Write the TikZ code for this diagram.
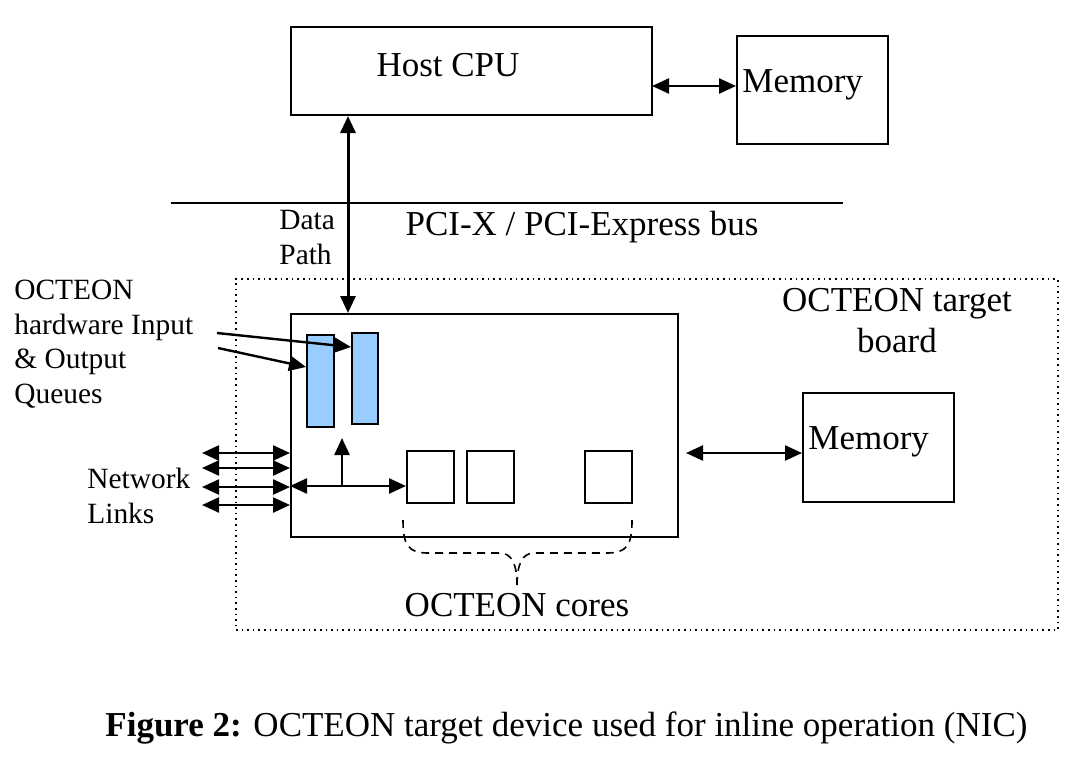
\documentclass[tikz,border=0pt]{standalone}
\usepackage{fontspec}
\setmainfont{Liberation Serif}
\usepackage{tikz}
\usetikzlibrary{arrows.meta}

\definecolor{queueblue}{RGB}{153,204,255}

\tikzset{
  box/.style={draw, line width=1pt, inner sep=0pt},
  dbl/.style={line width=1.2pt, {Triangle[length=8.5pt,width=7.5pt]}-{Triangle[length=8.5pt,width=7.5pt]}},
  arr/.style={line width=1.2pt, -{Triangle[length=8.5pt,width=7.5pt]}},
  big/.style={font=\fontsize{17.5}{20.5}\selectfont, inner sep=0pt},
  small/.style={font=\fontsize{14.7}{17.3}\selectfont, inner sep=0pt, align=left}
}

\begin{document}
\begin{tikzpicture}[x=0.5pt,y=-0.5pt]
\useasboundingbox (0,0) rectangle (1079,760);

%% boxes
\node[box, minimum width=180.5pt, minimum height=44pt] (cpu) at (471.5,71) {};      %% host cpu
\node[box, minimum width=75.5pt, minimum height=54pt] (mem1) at (812.5,90) {};      %% host memory
\node[draw, dotted, line width=0.8pt, minimum width=411pt, minimum height=175.5pt] (board) at (647,454.5) {}; %% target board
\node[box, minimum width=193.5pt, minimum height=111.5pt] (chip) at (484.5,425.5) {}; %% octeon chip
\node[box, fill=queueblue, minimum width=13.5pt, minimum height=46pt] (q1) at (320.5,381) {};   %% input queue
\node[box, fill=queueblue, minimum width=13pt, minimum height=45.5pt] (q2) at (365,378.5) {};   %% output queue
\node[box, minimum width=23.5pt, minimum height=26pt] (core1) at (430.5,477) {};    %% core 1
\node[box, minimum width=23.5pt, minimum height=26pt] (core2) at (490.5,477) {};    %% core 2
\node[box, minimum width=23.5pt, minimum height=26pt] (core3) at (608.5,477) {};    %% core n
\node[box, minimum width=75.5pt, minimum height=54.5pt] (mem2) at (878.5,447.5) {}; %% board memory

%% labels
\node[big] (cpulbl) at (448,65) {Host CPU};
\node[big, anchor=west] (mem1lbl) at (742,85) {Memory};
\node[big, anchor=west] (mem2lbl) at (808,442) {Memory};
\node[big] (buslbl) at (582,227) {PCI-X / PCI-Express bus};
\node[big, align=center] (boardlbl) at (897,320.5) {OCTEON target\\board};
\node[big] (corelbl) at (517,605) {OCTEON cores};
\node[small, anchor=west] (dplbl) at (279,237.5) {Data\\Path};
\node[small, anchor=west] (qlbl) at (14,344) {OCTEON\\hardware Input\\\& Output\\Queues};
\node[small, anchor=west] (netlbl) at (87,496) {Network\\Links};
\node[big, anchor=west] (caption) at (105,728) {\textbf{Figure 2:} OCTEON target device used for inline operation (NIC)};

%% coordinates
\coordinate (busL) at (171,203);
\coordinate (busR) at (843,203);
\coordinate (m1a) at (652,86);
\coordinate (dp) at (348,0);
\coordinate (qa) at (217,333);
\coordinate (qb) at (218,348);
\coordinate (hub) at (342,486);
\coordinate (qtip) at (342,438);
\coordinate (nl1) at (202,453);
\coordinate (nl2) at (202,468);
\coordinate (nl3) at (202,487);
\coordinate (nl4) at (202,505);
\coordinate (m2a) at (686,453);
\coordinate (brL) at (403,520);
\coordinate (brR) at (632,520);
\coordinate (brM) at (517,585);

%% bus
\draw[line width=1pt] (busL) -- (busR);

%% connectors
\draw[dbl] (m1a) -- (m1a -| mem1.west);                     %% cpu - memory
\draw[dbl, line width=1.5pt] (dp |- cpu.south) -- (dp |- chip.north); %% data path
\draw[arr] (qa) -- ([yshift=-7.5pt]q2.north west);           %% label - output queue
\draw[arr] (qb) -- ([yshift=-16.5pt]q1.north west);          %% label - input queue
\draw[dbl] (chip.west |- hub) -- (core1.west |- hub);       %% links - cores
\draw[arr] (hub) -- (qtip);                                 %% up to queues
\draw[dbl] (nl1) -- (nl1 -| chip.west);                     %% link 1
\draw[dbl] (nl2) -- (nl2 -| chip.west);                     %% link 2
\draw[dbl] (nl3) -- (nl3 -| chip.west);                     %% link 3
\draw[dbl] (nl4) -- (nl4 -| chip.west);                     %% link 4
\draw[dbl] (m2a) -- (m2a -| mem2.west);                     %% chip - memory

%% brace under the cores
\draw[dashed, line width=0.8pt, dash pattern=on 4pt off 3pt] (brL) .. controls (403,545) and (408,553) .. (428,553) -- (500,553) .. controls (512,553) and (517,565) .. (brM);
\draw[dashed, line width=0.8pt, dash pattern=on 4pt off 3pt] (brR) .. controls (632,545) and (627,553) .. (607,553) -- (534,553) .. controls (522,553) and (517,565) .. (brM);

\end{tikzpicture}
\end{document}
